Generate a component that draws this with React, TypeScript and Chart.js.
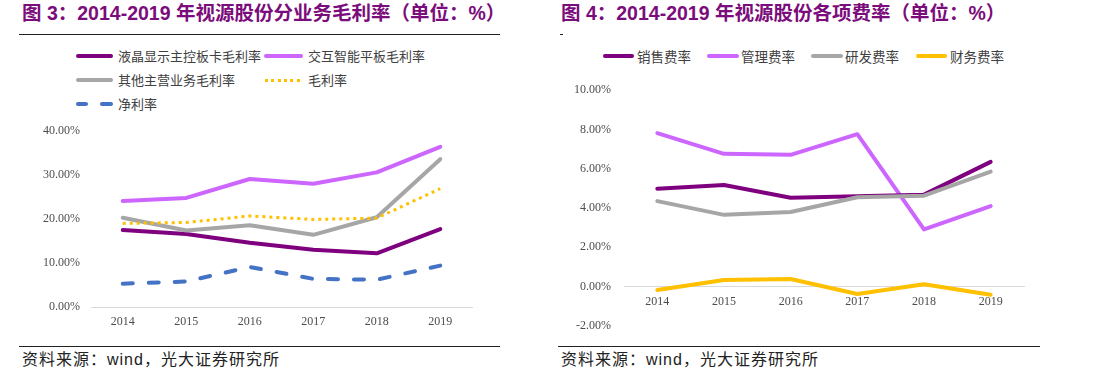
import React, { useEffect, useRef } from "react";
import { Chart, registerables } from "chart.js";

Chart.register(...registerables);

const years = ["2014", "2015", "2016", "2017", "2018", "2019"];

// 图3
const lcdMargin = [17.5, 16.6, 14.6, 13.0, 12.2, 17.7];
const panelMargin = [24.1, 24.8, 29.1, 28.0, 30.6, 36.4];
const otherMargin = [20.3, 17.4, 18.6, 16.4, 20.4, 33.6];
const grossMargin = [19.0, 19.2, 20.7, 19.9, 20.2, 26.9];
const netMargin = [5.3, 5.8, 9.1, 6.4, 6.2, 9.4];
const leftTicks = [0, 10, 20, 30, 40];

// 图4
const salesRate = [4.98, 5.17, 4.52, 4.6, 4.68, 6.35];
const adminRate = [7.81, 6.76, 6.71, 7.76, 2.91, 4.1];
const rdRate = [4.35, 3.65, 3.8, 4.55, 4.63, 5.85];
const financeRate = [-0.18, 0.33, 0.38, -0.38, 0.12, -0.42];
const rightTicks = [-2, 0, 2, 4, 6, 8, 10];

const PURPLE = "#7F007F";
const VIOLET = "#CC66FF";
const GRAY = "#A6A6A6";
const YELLOW = "#FFC000";
const BLUE = "#4472C4";
const TITLE = "#7B0C7B";

const tickFont = { family: "'Liberation Serif', serif", size: 12 };

function lineDs(label: string, data: number[], color: string, extra: any = {}) {
  return {
    label,
    data,
    borderColor: color,
    backgroundColor: color,
    borderWidth: 4,
    pointRadius: 0,
    tension: 0,
    borderJoinStyle: "round",
    borderCapStyle: "round",
    ...extra,
  };
}

function makeOptions(min: number, max: number, yWidth: number, pad: any, tickPad: number, tickList: number[]) {
  return {
    animation: false,
    responsive: false,
    maintainAspectRatio: false,
    layout: { padding: pad },
    plugins: { legend: { display: false }, tooltip: { enabled: false } },
    scales: {
      x: {
        type: "category",
        position: { y: 0 },
        offset: true,
        grid: { display: false, drawTicks: false },
        border: { display: true, color: "#D9D9D9", width: 1 },
        ticks: { font: tickFont, color: "#4D4D4D", padding: 8, maxRotation: 0 },
      },
      y: {
        min,
        max,
        grid: { display: false, drawTicks: false },
        border: { display: false },
        afterFit: (s: any) => {
          s.width = yWidth;
        },
        afterBuildTicks: (s: any) => {
          s.ticks = tickList.map((v) => ({ value: v }));
        },
        ticks: {
          font: tickFont,
          color: "#4D4D4D",
          padding: tickPad,
          callback: (v: any) => Number(v).toFixed(2) + "%",
        },
      },
    },
  };
}

function ChartCanvas({ config, style, w, h }: any) {
  const ref = useRef<HTMLCanvasElement>(null);
  useEffect(() => {
    const c = new Chart(ref.current as HTMLCanvasElement, config);
    return () => c.destroy();
  }, []);
  return <canvas ref={ref} width={w} height={h} style={{ position: "absolute", width: w, height: h, ...style }} />;
}

const abs = (x: number, y: number, extra: any = {}) => ({ position: "absolute" as const, left: x, top: y, ...extra });

function Sample({ x, y, w, bg }: any) {
  return <div style={abs(x, y - 2, { width: w, height: 4, background: bg, borderRadius: 2 })} />;
}

function LegendText({ x, y, text, size = 13 }: any) {
  return (
    <div
      style={abs(x, y - 10, {
        fontFamily: "'Noto Sans CJK SC', sans-serif",
        fontSize: size,
        lineHeight: "20px",
        color: "#404040",
        whiteSpace: "nowrap",
      })}
    >
      {text}
    </div>
  );
}

const titleStyle = {
  fontFamily: "'Liberation Sans', 'Noto Sans CJK SC', sans-serif",
  fontWeight: 700,
  fontSize: 19.5,
  lineHeight: "26px",
  color: TITLE,
  whiteSpace: "nowrap" as const,
};

const sourceStyle = {
  fontFamily: "'Liberation Sans', 'Noto Sans CJK SC', sans-serif",
  fontSize: 16,
  lineHeight: "20px",
  color: "#222",
  whiteSpace: "nowrap" as const,
  letterSpacing: 1,
};

export default function App() {
  const leftConfig = {
    type: "line",
    data: {
      labels: years,
      datasets: [
        lineDs("净利率", netMargin, BLUE, { borderDash: [10, 16], borderCapStyle: "round" }),
        lineDs("毛利率", grossMargin, YELLOW, { borderDash: [3, 4], borderWidth: 3, borderCapStyle: "butt" }),
        lineDs("其他主营业务毛利率", otherMargin, GRAY),
        lineDs("交互智能平板毛利率", panelMargin, VIOLET),
        lineDs("液晶显示主控板卡毛利率", lcdMargin, PURPLE),
      ],
    },
    options: makeOptions(0, 40, 91, { top: 21, bottom: 39, right: 28, left: 0 }, 11, leftTicks),
  };

  const rightConfig = {
    type: "line",
    data: {
      labels: years,
      datasets: [
        lineDs("财务费率", financeRate, YELLOW),
        lineDs("研发费率", rdRate, GRAY),
        lineDs("销售费率", salesRate, PURPLE),
        lineDs("管理费率", adminRate, VIOLET),
      ],
    },
    options: makeOptions(-2, 10, 76, { top: 15, bottom: 20, right: 24, left: 0 }, 13, rightTicks),
  };

  return (
    <div style={{ position: "absolute", left: 0, top: 0, width: 1095, height: 369, background: "#fff", overflow: "hidden" }}>
      {/* Left titles */}
      <div style={abs(22, 0, titleStyle)}>图 3：2014-2019 年视源股份分业务毛利率（单位：%）</div>
      <div style={abs(19, 34, { width: 481, height: 1, background: "#222" })} />

      {/* Left legend */}
      <Sample x={76} y={56} w={37} bg={PURPLE} />
      <LegendText x={118} y={56} text="液晶显示主控板卡毛利率" />
      <Sample x={264} y={56} w={39} bg={VIOLET} />
      <LegendText x={308} y={56} text="交互智能平板毛利率" />
      <Sample x={76} y={80} w={37} bg={GRAY} />
      <LegendText x={118} y={80} text="其他主营业务毛利率" />
      <div
        style={abs(265, 79, {
          width: 38,
          height: 3,
          background: `repeating-linear-gradient(to right, ${YELLOW} 0 3px, transparent 3px 6.3px)`,
        })}
      />
      <LegendText x={308} y={80} text="毛利率" />
      <Sample x={76} y={104} w={12} bg={BLUE} />
      <Sample x={100} y={104} w={13} bg={BLUE} />
      <LegendText x={118} y={104} text="净利率" />

      <ChartCanvas config={leftConfig} w={500} h={236} style={{ left: 0, top: 110 }} />

      <div style={abs(19, 346, { width: 481, height: 1, background: "#222" })} />
      <div style={abs(22, 350, sourceStyle)}>资料来源：wind，光大证券研究所</div>

      {/* Right titles */}
      <div style={abs(561, 0, titleStyle)}>图 4：2014-2019 年视源股份各项费率（单位：%）</div>
      <div style={abs(560, 34, { width: 3, height: 1, background: "#222" })} />

      {/* Right legend */}
      <Sample x={603} y={56} w={31} bg={PURPLE} />
      <LegendText x={637} y={56} text="销售费率" size={13.5} />
      <Sample x={707} y={56} w={32} bg={VIOLET} />
      <LegendText x={741} y={56} text="管理费率" size={13.5} />
      <Sample x={811} y={56} w={32} bg={GRAY} />
      <LegendText x={845} y={56} text="研发费率" size={13.5} />
      <Sample x={916} y={56} w={31} bg={YELLOW} />
      <LegendText x={950} y={56} text="财务费率" size={13.5} />

      <ChartCanvas config={rightConfig} w={500} h={276} style={{ left: 548, top: 70 }} />

      <div style={abs(558, 346, { width: 482, height: 1, background: "#222" })} />
      <div style={abs(561, 350, sourceStyle)}>资料来源：wind，光大证券研究所</div>
    </div>
  );
}
